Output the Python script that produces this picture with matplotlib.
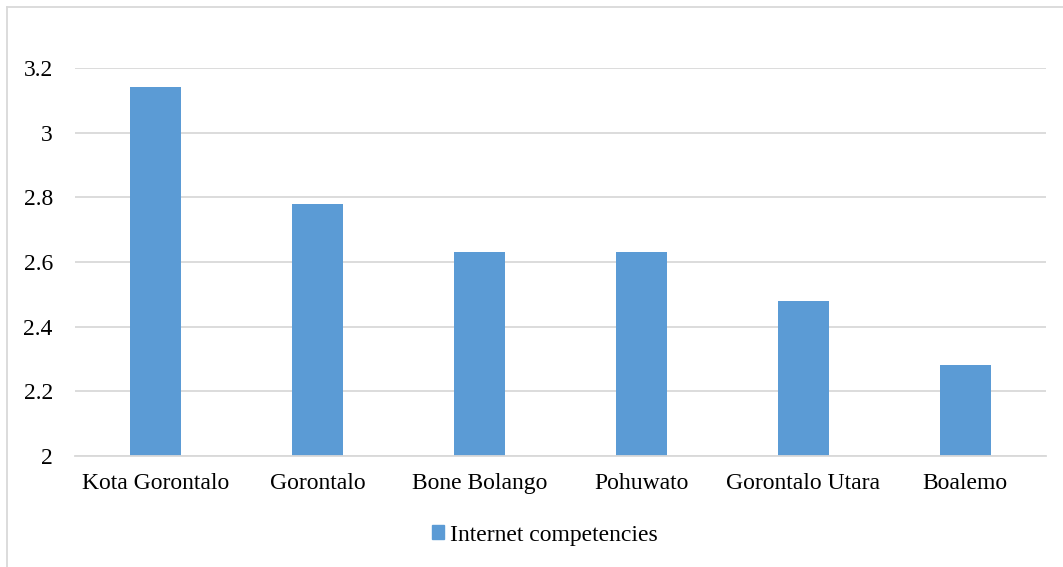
import matplotlib
matplotlib.use('Agg')
import matplotlib.pyplot as plt
from matplotlib.lines import Line2D
from matplotlib.patches import Patch

regions = ['Kota Gorontalo', 'Gorontalo', 'Bone Bolango', 'Pohuwato',
           'Gorontalo Utara', 'Boalemo']
scores = [3.14, 2.78, 2.63, 2.63, 2.48, 2.28]
y_ticks = [2, 2.2, 2.4, 2.6, 2.8, 3, 3.2]
y_labels = ['2', '2.2', '2.4', '2.6', '2.8', '3', '3.2']
series_name = 'Internet competencies'

bar_color = '#5B9BD5'
grid_color = '#D9D9D9'

plt.rcParams['font.family'] = ['Liberation Serif', 'DejaVu Serif']

W, H = 1063, 567
fig = plt.figure(figsize=(W / 100, H / 100), dpi=100)
ax = fig.add_axes([75 / W, 1 - 456 / H, (1046 - 75) / W, (456 - 68) / H])

x = range(len(regions))
ax.bar(x, scores, width=0.315, color=bar_color, zorder=3)
ax.set_xlim(-0.5, len(regions) - 0.5)
ax.set_ylim(2, 3.2)
ax.set_yticks(y_ticks)
ax.set_yticklabels(y_labels)
ax.set_xticks(list(x))
ax.set_xticklabels(regions)
ax.tick_params(axis='both', length=0, labelsize=17, colors='black')
ax.tick_params(axis='y', pad=16)
ax.tick_params(axis='x', pad=12)
ax.yaxis.grid(True, color=grid_color, linewidth=1.3, zorder=0)
for s in ['top', 'right', 'left']:
    ax.spines[s].set_visible(False)
ax.spines['bottom'].set_color(grid_color)
ax.spines['bottom'].set_linewidth(1.3)
ax.spines['bottom'].set_zorder(4)

fig.legend(handles=[Patch(color=bar_color, label=series_name)],
           loc='center', bbox_to_anchor=(545 / W, 1 - 535 / H),
           frameon=False, fontsize=17, handlelength=0.5, handleheight=0.5,
           handletextpad=0.25)

# outer chart border (top and left edges visible)
fig.add_artist(Line2D([7 / W, 1], [1 - 7 / H, 1 - 7 / H], color=grid_color,
                      linewidth=1.3, transform=fig.transFigure))
fig.add_artist(Line2D([7 / W, 7 / W], [0, 1 - 7 / H], color=grid_color,
                      linewidth=1.3, transform=fig.transFigure))

fig.savefig('out.png', dpi=100)
